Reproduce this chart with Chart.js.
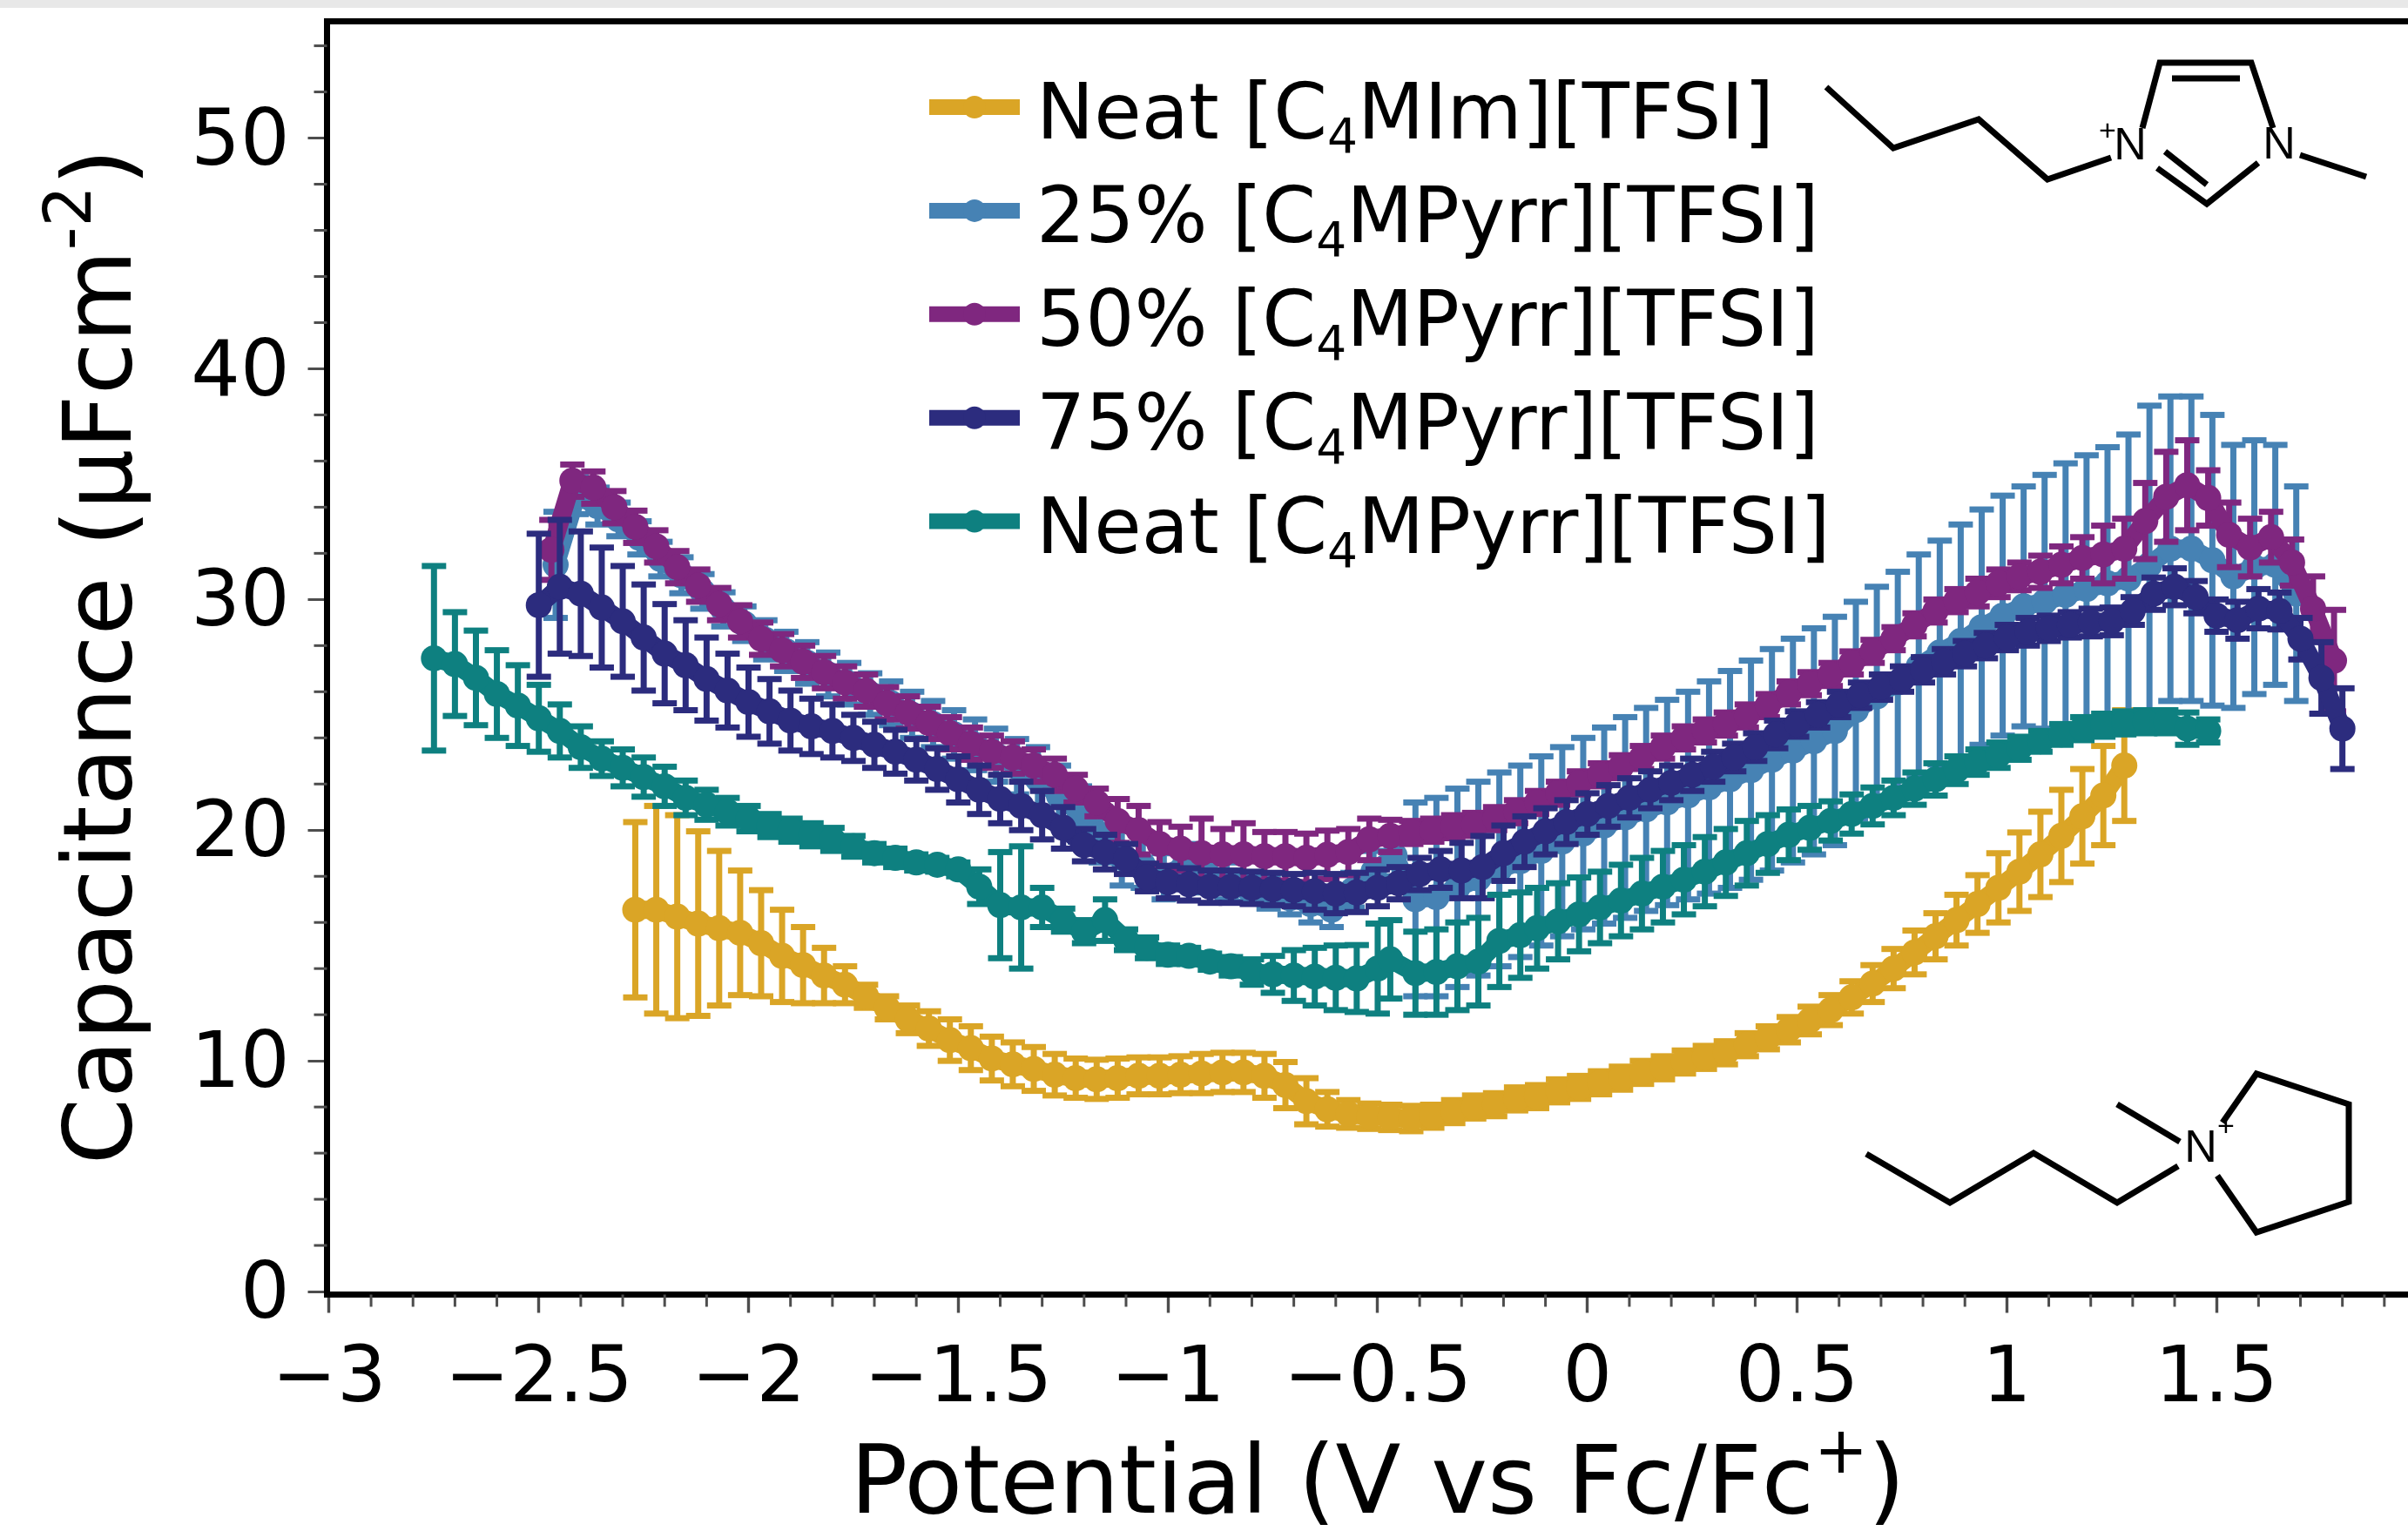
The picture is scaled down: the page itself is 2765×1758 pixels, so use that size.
<!DOCTYPE html>
<html>
<head>
<meta charset="utf-8">
<title>Capacitance vs potential</title>
<script src="https://cdn.jsdelivr.net/npm/chart.js@4/dist/chart.umd.min.js"></script>
<style>
  html, body { margin: 0; padding: 0; background: #fff; }
  canvas { display: block; }
</style>
</head>
<body>
<canvas id="capacitance-chart" width="2765" height="1758"></canvas>
<script>
// values
const seriesNames = ['Neat [C₄MIm][TFSI]', '25% [C₄MPyrr][TFSI]', '50% [C₄MPyrr][TFSI]', '75% [C₄MPyrr][TFSI]', 'Neat [C₄MPyrr][TFSI]'];
const xTickValues = [-3, -2.5, -2, -1.5, -1, -0.5, 0, 0.5, 1, 1.5];
const yTickValues = [0, 10, 20, 30, 40, 50];
const xMinorValues = [-2.9, -2.8, -2.7, -2.6, -2.4, -2.3, -2.2, -2.1, -1.9, -1.8, -1.7, -1.6, -1.4, -1.3, -1.2, -1.1, -0.9, -0.8, -0.7, -0.6, -0.4, -0.3, -0.2, -0.1, 0.1, 0.2, 0.3, 0.4, 0.6, 0.7, 0.8, 0.9, 1.1, 1.2, 1.3, 1.4, 1.6, 1.7, 1.8, 1.9];
const yMinorValues = [2, 4, 6, 8, 12, 14, 16, 18, 22, 24, 26, 28, 32, 34, 36, 38, 42, 44, 46, 48, 52, 54];

// Neat [C4MIm][TFSI]
const xGold = [-2.27, -2.22, -2.17, -2.12, -2.07, -2.02, -1.97, -1.92, -1.87, -1.82, -1.77, -1.72, -1.67, -1.62, -1.57, -1.52, -1.47, -1.42, -1.37, -1.32, -1.27, -1.22, -1.17, -1.12, -1.07, -1.02, -0.97, -0.92, -0.87, -0.82, -0.77, -0.72, -0.67, -0.62, -0.57, -0.52, -0.47, -0.42, -0.37, -0.32, -0.27, -0.22, -0.17, -0.12, -0.07, -0.02, 0.03, 0.08, 0.13, 0.18, 0.23, 0.28, 0.33, 0.38, 0.43, 0.48, 0.53, 0.58, 0.63, 0.68, 0.73, 0.78, 0.83, 0.88, 0.93, 0.98, 1.03, 1.08, 1.13, 1.18, 1.23, 1.28];
const yGold = [16.55, 16.55, 16.25, 15.95, 15.75, 15.55, 15.1, 14.55, 14.15, 13.7, 13.3, 12.8, 12.3, 11.8, 11.4, 10.9, 10.55, 10.1, 9.85, 9.65, 9.4, 9.25, 9.2, 9.25, 9.35, 9.35, 9.4, 9.45, 9.5, 9.5, 9.35, 8.95, 8.25, 7.9, 7.7, 7.6, 7.55, 7.5, 7.6, 7.8, 8.0, 8.1, 8.35, 8.45, 8.7, 8.85, 9.05, 9.25, 9.5, 9.7, 9.95, 10.15, 10.35, 10.7, 11.0, 11.35, 11.75, 12.2, 12.75, 13.35, 14.0, 14.7, 15.4, 16.1, 16.8, 17.5, 18.2, 18.95, 19.75, 20.6, 21.5, 22.8];
const errGold = [3.8, 4.5, 4.4, 4.0, 3.35, 2.7, 2.3, 2.0, 1.65, 1.2, 0.8, 0.5, 0.5, 0.6, 0.75, 0.9, 0.95, 0.95, 0.95, 0.95, 0.9, 0.85, 0.85, 0.85, 0.8, 0.8, 0.8, 0.85, 0.85, 0.85, 0.95, 1.0, 1.0, 0.75, 0.6, 0.55, 0.55, 0.55, 0.5, 0.5, 0.5, 0.5, 0.5, 0.5, 0.5, 0.5, 0.5, 0.5, 0.5, 0.5, 0.5, 0.5, 0.5, 0.5, 0.5, 0.55, 0.6, 0.65, 0.7, 0.8, 0.85, 0.95, 1.0, 1.1, 1.25, 1.5, 1.7, 1.85, 2.0, 2.05, 2.15, 2.4];

// 25% [C4MPyrr][TFSI]
const xBlue = [-2.46, -2.41, -2.36, -2.31, -2.26, -2.21, -2.16, -2.11, -2.06, -2.01, -1.96, -1.91, -1.86, -1.81, -1.76, -1.71, -1.66, -1.61, -1.56, -1.51, -1.46, -1.41, -1.36, -1.31, -1.26, -1.21, -1.16, -1.11, -1.06, -1.01, -0.96, -0.91, -0.86, -0.81, -0.76, -0.71, -0.66, -0.61, -0.56, -0.51, -0.46, -0.41, -0.36, -0.31, -0.26, -0.21, -0.16, -0.11, -0.06, -0.01, 0.04, 0.09, 0.14, 0.19, 0.24, 0.29, 0.34, 0.39, 0.44, 0.49, 0.54, 0.59, 0.64, 0.69, 0.74, 0.79, 0.84, 0.89, 0.94, 0.99, 1.04, 1.09, 1.14, 1.19, 1.24, 1.29, 1.34, 1.39, 1.44, 1.49, 1.54, 1.59, 1.64, 1.69];
const yBlue = [31.5, 34.5, 34.05, 33.47, 32.67, 31.75, 31.05, 30.35, 29.57, 28.95, 28.25, 27.75, 27.25, 26.75, 26.35, 25.9, 25.5, 25.0, 24.6, 24.15, 23.7, 23.25, 22.75, 22.2, 21.5, 20.7, 19.8, 18.8, 18.5, 18.0, 18.5, 18.2, 17.8, 17.5, 17.3, 17.05, 16.8, 16.55, 17.4, 18.2, 18.9, 17.0, 17.1, 17.5, 17.9, 18.3, 18.65, 19.1, 19.5, 19.85, 20.2, 20.55, 20.9, 21.2, 21.5, 21.85, 22.2, 22.6, 23.05, 23.45, 23.85, 24.3, 25.2, 25.8, 26.4, 27.1, 27.7, 28.2, 28.8, 29.3, 29.7, 29.9, 30.2, 30.45, 30.7, 30.9, 31.5, 32.2, 32.2, 31.7, 31.0, 31.4, 31.5, 30.25];
const errBlue = [2.3, 0.8, 0.8, 0.73, 0.72, 0.75, 0.78, 0.75, 0.74, 0.75, 0.85, 0.85, 0.9, 0.95, 0.9, 0.9, 0.95, 1.0, 1.0, 1.05, 1.1, 1.15, 1.2, 1.4, 1.3, 1.2, 1.2, 1.2, 1.0, 1.0, 0.9, 0.9, 0.8, 0.6, 0.7, 0.7, 0.8, 0.75, 0.75, 0.9, 0.9, 4.2, 4.3, 4.3, 4.2, 4.2, 4.15, 4.1, 4.1, 4.15, 4.25, 4.35, 4.4, 4.45, 4.5, 4.6, 4.7, 4.75, 4.8, 4.85, 4.9, 4.95, 4.7, 4.75, 4.8, 4.85, 4.85, 5.05, 5.1, 5.2, 5.2, 5.5, 5.7, 5.8, 5.9, 6.25, 6.9, 6.6, 6.6, 6.3, 5.7, 5.5, 5.2, 4.65];

// 50% [C4MPyrr][TFSI]
const xPurple = [-2.47, -2.42, -2.37, -2.32, -2.27, -2.22, -2.17, -2.12, -2.07, -2.02, -1.97, -1.92, -1.87, -1.82, -1.77, -1.72, -1.67, -1.62, -1.57, -1.52, -1.47, -1.42, -1.37, -1.32, -1.27, -1.22, -1.17, -1.12, -1.07, -1.02, -0.97, -0.92, -0.87, -0.82, -0.77, -0.72, -0.67, -0.62, -0.57, -0.52, -0.47, -0.42, -0.37, -0.32, -0.27, -0.22, -0.17, -0.12, -0.07, -0.02, 0.03, 0.08, 0.13, 0.18, 0.23, 0.28, 0.33, 0.38, 0.43, 0.48, 0.53, 0.58, 0.63, 0.68, 0.73, 0.78, 0.83, 0.88, 0.93, 0.98, 1.03, 1.08, 1.13, 1.18, 1.23, 1.28, 1.33, 1.38, 1.43, 1.48, 1.53, 1.58, 1.63, 1.68, 1.73, 1.78];
const yPurple = [32.15, 35.15, 34.85, 34.0, 33.15, 32.3, 31.4, 30.6, 29.8, 29.05, 28.3, 27.8, 27.3, 26.85, 26.4, 26.05, 25.5, 25.1, 24.65, 24.2, 23.75, 23.4, 23.15, 22.8, 22.4, 21.8, 21.2, 20.4, 20.0, 19.4, 19.2, 19.0, 18.95, 18.95, 18.87, 18.87, 18.8, 18.93, 19.05, 19.6, 19.75, 19.9, 20.0, 20.15, 20.25, 20.5, 20.8, 21.2, 21.6, 22.05, 22.4, 22.75, 23.15, 23.6, 24.0, 24.3, 24.6, 24.95, 25.4, 25.95, 26.35, 26.75, 27.25, 27.75, 28.3, 28.9, 29.5, 29.95, 30.3, 30.7, 31.0, 31.2, 31.5, 31.8, 31.95, 32.2, 33.4, 34.45, 34.95, 34.4, 32.8, 32.25, 32.7, 31.6, 29.6, 27.35];
const errPurple = [1.3, 0.7, 0.7, 0.7, 0.7, 0.7, 0.7, 0.7, 0.7, 0.7, 0.7, 0.7, 0.7, 0.7, 0.7, 0.7, 0.7, 0.7, 0.7, 0.7, 0.7, 0.7, 0.7, 0.7, 0.7, 0.6, 0.6, 0.95, 1.05, 0.95, 0.95, 1.5, 1.1, 1.35, 1.05, 1.05, 1.05, 1.05, 1.0, 0.9, 0.7, 0.5, 0.5, 0.5, 0.5, 0.5, 0.5, 0.5, 0.5, 0.5, 0.5, 0.5, 0.5, 0.5, 0.5, 0.5, 0.5, 0.5, 0.5, 0.5, 0.5, 0.5, 0.5, 0.5, 0.5, 0.5, 0.5, 0.5, 0.6, 0.6, 0.6, 0.7, 0.8, 0.9, 1.25, 1.3, 1.65, 1.95, 1.95, 1.2, 1.4, 1.25, 1.1, 1.0, 1.4, 2.2];

// 75% [C4MPyrr][TFSI]
const xNavy = [-2.5, -2.45, -2.4, -2.35, -2.3, -2.25, -2.2, -2.15, -2.1, -2.05, -2, -1.95, -1.9, -1.85, -1.8, -1.75, -1.7, -1.65, -1.6, -1.55, -1.5, -1.45, -1.4, -1.35, -1.3, -1.25, -1.2, -1.15, -1.1, -1.05, -1, -0.95, -0.9, -0.85, -0.8, -0.75, -0.7, -0.65, -0.6, -0.55, -0.5, -0.45, -0.4, -0.35, -0.3, -0.25, -0.2, -0.15, -0.1, -0.05, 0, 0.05, 0.1, 0.15, 0.2, 0.25, 0.3, 0.35, 0.4, 0.45, 0.5, 0.55, 0.6, 0.65, 0.7, 0.75, 0.8, 0.85, 0.9, 0.95, 1, 1.05, 1.1, 1.15, 1.2, 1.25, 1.3, 1.35, 1.4, 1.45, 1.5, 1.55, 1.6, 1.65, 1.7, 1.75, 1.8];
const yNavy = [29.75, 30.55, 30.25, 29.65, 29.05, 28.35, 27.65, 27.15, 26.55, 26.05, 25.55, 25.15, 24.75, 24.5, 24.3, 24.0, 23.7, 23.4, 23.05, 22.65, 22.2, 21.75, 21.35, 21.05, 20.65, 20.1, 19.35, 19.05, 18.75, 17.95, 17.75, 17.65, 17.55, 17.55, 17.5, 17.45, 17.4, 17.35, 17.25, 17.3, 17.5, 17.7, 18.1, 18.3, 18.25, 18.4, 19.0, 19.5, 19.95, 20.35, 20.7, 21.05, 21.4, 21.75, 22.05, 22.4, 22.75, 23.15, 23.6, 24.15, 24.6, 25.0, 25.45, 25.85, 26.2, 26.55, 26.95, 27.3, 27.65, 28.0, 28.35, 28.6, 28.75, 28.9, 29.0, 29.05, 29.5, 30.25, 30.55, 30.1, 29.3, 29.1, 29.6, 29.5, 28.3, 26.6, 24.4];
const errNavy = [3.1, 2.9, 2.7, 2.6, 2.4, 2.3, 2.15, 1.95, 1.8, 1.6, 1.5, 1.4, 1.3, 1.2, 1.15, 1.0, 1.0, 0.95, 0.9, 0.9, 1.0, 1.05, 1.05, 1.05, 1.05, 0.9, 0.7, 0.75, 0.65, 0.6, 0.7, 0.7, 0.7, 0.7, 0.7, 0.7, 0.7, 0.8, 0.85, 0.85, 0.8, 0.7, 0.7, 0.8, 1.2, 1.35, 1.2, 1.1, 1.0, 0.95, 0.9, 0.9, 0.85, 0.8, 0.75, 0.7, 0.65, 0.6, 0.6, 0.6, 0.55, 0.55, 0.55, 0.55, 0.55, 0.55, 0.55, 0.55, 0.55, 0.55, 0.55, 0.6, 0.55, 0.55, 0.6, 0.6, 0.6, 0.7, 0.8, 0.7, 0.7, 0.8, 0.85, 0.8, 0.9, 1.55, 1.75];

// Neat [C4MPyrr][TFSI]
const xTeal = [-2.75, -2.7, -2.65, -2.6, -2.55, -2.5, -2.45, -2.4, -2.35, -2.3, -2.25, -2.2, -2.15, -2.1, -2.05, -2, -1.95, -1.9, -1.85, -1.8, -1.75, -1.7, -1.65, -1.6, -1.55, -1.5, -1.45, -1.4, -1.35, -1.3, -1.25, -1.2, -1.15, -1.1, -1.05, -1, -0.95, -0.9, -0.85, -0.8, -0.75, -0.7, -0.65, -0.6, -0.55, -0.5, -0.47, -0.41, -0.36, -0.31, -0.26, -0.21, -0.16, -0.12, -0.07, -0.02, 0.03, 0.08, 0.13, 0.18, 0.23, 0.28, 0.33, 0.38, 0.43, 0.48, 0.53, 0.58, 0.63, 0.68, 0.73, 0.78, 0.83, 0.88, 0.93, 0.98, 1.03, 1.08, 1.13, 1.18, 1.23, 1.28, 1.33, 1.38, 1.43, 1.48];
const yTeal = [27.45, 27.2, 26.6, 25.9, 25.4, 24.85, 24.3, 23.6, 23.1, 22.7, 22.3, 21.9, 21.4, 21.1, 20.8, 20.5, 20.2, 20.0, 19.8, 19.6, 19.3, 19.0, 18.8, 18.6, 18.5, 18.3, 17.55, 16.75, 16.65, 16.65, 16.1, 15.6, 16.1, 15.25, 14.9, 14.6, 14.55, 14.3, 14.1, 13.85, 13.75, 13.7, 13.65, 13.6, 13.57, 14.0, 14.4, 13.8, 13.85, 14.1, 14.3, 15.2, 15.45, 15.75, 16.05, 16.35, 16.65, 16.95, 17.25, 17.55, 17.85, 18.2, 18.6, 19.0, 19.4, 19.8, 20.1, 20.4, 20.7, 21.05, 21.4, 21.8, 22.2, 22.6, 22.95, 23.25, 23.55, 23.85, 24.15, 24.4, 24.55, 24.65, 24.7, 24.7, 24.4, 24.3];
const errTeal = [4.0, 2.25, 2.05, 1.9, 1.75, 1.45, 1.15, 0.9, 0.75, 0.8, 0.85, 0.85, 0.75, 0.65, 0.6, 0.55, 0.5, 0.5, 0.5, 0.5, 0.45, 0.4, 0.4, 0.35, 0.3, 0.3, 0.75, 2.3, 2.65, 0.85, 0.5, 0.5, 0.9, 0.45, 0.45, 0.4, 0.35, 0.35, 0.4, 0.55, 0.8, 1.1, 1.25, 1.4, 1.45, 1.95, 1.7, 1.8, 1.85, 1.9, 1.9, 2.0, 1.85, 1.75, 1.65, 1.6, 1.55, 1.55, 1.55, 1.55, 1.5, 1.5, 1.45, 1.4, 1.25, 1.1, 0.95, 0.85, 0.85, 0.8, 0.75, 0.7, 0.7, 0.6, 0.55, 0.55, 0.5, 0.45, 0.45, 0.5, 0.5, 0.5, 0.5, 0.5, 0.7, 0.5];

const FONT = '"DejaVu Sans"';
const toPoints = (xs, ys) => xs.map((x, i) => ({ x: x, y: ys[i] }));

function makeDataset(label, xs, ys, errs, color, order) {
    return {
        label: label,
        data: toPoints(xs, ys),
        errorBars: errs,
        borderColor: color,
        backgroundColor: color,
        borderWidth: 21,
        pointRadius: 15,
        pointBorderWidth: 0,
        tension: 0,
        showLine: true,
        clip: false,
        order: order // teal ends up on top, gold at the bottom
    };
}

// writes text where ₄ turns into a lowered small 4
function drawLegendText(ctx, text, x, y, size) {
    const parts = text.split('₄');
    ctx.font = size + 'px ' + FONT;
    ctx.fillText(parts[0], x, y);
    x += ctx.measureText(parts[0]).width;
    ctx.font = Math.round(size * 0.62) + 'px ' + FONT;
    ctx.fillText('4', x, y + size * 0.18);
    x += ctx.measureText('4').width;
    ctx.font = size + 'px ' + FONT;
    ctx.fillText(parts[1], x, y);
}

// base text followed by a raised smaller part and a closing bracket
function drawSuperText(ctx, before, sup, after, x, y, size, anchorMiddle) {
    ctx.font = size + 'px ' + FONT;
    const w1 = ctx.measureText(before).width;
    const w3 = ctx.measureText(after).width;
    ctx.font = Math.round(size * 0.68) + 'px ' + FONT;
    const w2 = ctx.measureText(sup).width;
    let cx = anchorMiddle ? x - (w1 + w2 + w3) / 2 : x;
    ctx.font = size + 'px ' + FONT;
    ctx.fillText(before, cx, y);
    cx += w1;
    ctx.font = Math.round(size * 0.68) + 'px ' + FONT;
    ctx.fillText(sup, cx, y - size * 0.42);
    cx += w2;
    ctx.font = size + 'px ' + FONT;
    ctx.fillText(after, cx, y);
}

function strokePath(ctx, pts) {
    ctx.beginPath();
    pts.forEach((p, i) => i === 0 ? ctx.moveTo(p[0], p[1]) : ctx.lineTo(p[0], p[1]));
    ctx.stroke();
}

// the scales must not push the plot area in for their half labels
function pinScale(scale, width, height) {
    if (width) scale.width = width;
    if (height) scale.height = height;
    scale.paddingTop = 0;
    scale.paddingBottom = 0;
    scale.paddingLeft = 0;
    scale.paddingRight = 0;
}

// error bars go under each series line
const errorBarPlugin = {
    id: 'errorBars',
    beforeDatasetDraw(chart, args) {
        const ds = chart.data.datasets[args.index];
        const ctx = chart.ctx;
        const xs = chart.scales.x, ys = chart.scales.y;
        ctx.save();
        ctx.strokeStyle = ds.borderColor;
        ctx.lineWidth = 7;
        ds.data.forEach((p, i) => {
            const px = xs.getPixelForValue(p.x);
            const top = ys.getPixelForValue(p.y + ds.errorBars[i]);
            const bot = ys.getPixelForValue(p.y - ds.errorBars[i]);
            strokePath(ctx, [[px, top], [px, bot]]);
            strokePath(ctx, [[px - 14, top], [px + 14, top]]);
            strokePath(ctx, [[px - 14, bot], [px + 14, bot]]);
        });
        ctx.restore();
    }
};

// page band, top frame line, minor ticks, legend, axis titles, cation sketches
const decorPlugin = {
    id: 'decor',
    beforeDraw(chart) {
        const ctx = chart.ctx;
        ctx.save();
        ctx.fillStyle = '#fff';
        ctx.fillRect(0, 0, chart.width, chart.height);
        ctx.fillStyle = '#e8e8e8';
        ctx.fillRect(0, 0, chart.width, 9);
        ctx.restore();
    },
    afterDraw(chart) {
        const ctx = chart.ctx;
        const area = chart.chartArea;
        ctx.save();

        ctx.strokeStyle = '#000';
        ctx.lineWidth = 7;
        strokePath(ctx, [[area.left - 3.5, area.top], [area.right, area.top]]);

        ctx.strokeStyle = '#4d4d4d';
        ctx.lineWidth = 3;
        xMinorValues.forEach(v => {
            const px = chart.scales.x.getPixelForValue(v);
            strokePath(ctx, [[px, area.bottom], [px, area.bottom + 14]]);
        });
        yMinorValues.forEach(v => {
            const py = chart.scales.y.getPixelForValue(v);
            strokePath(ctx, [[area.left - 15, py], [area.left, py]]);
        });

        // legend
        ctx.textAlign = 'left';
        ctx.textBaseline = 'alphabetic';
        chart.data.datasets.forEach((ds, i) => {
            const rowY = 123 + i * 118.9;
            ctx.strokeStyle = ds.borderColor;
            ctx.fillStyle = ds.borderColor;
            ctx.lineWidth = 18;
            strokePath(ctx, [[1067, rowY], [1171, rowY]]);
            ctx.beginPath();
            ctx.arc(1119, rowY, 13, 0, Math.PI * 2);
            ctx.fill();
            ctx.fillStyle = '#000';
            drawLegendText(ctx, ds.label, 1190, rowY + 36, 88.5);
        });

        // axis titles
        ctx.fillStyle = '#000';
        drawSuperText(ctx, 'Potential (V vs Fc/Fc', '+', ')', 1582, 1737, 109.5, true);
        ctx.save();
        ctx.translate(150, 754);
        ctx.rotate(-Math.PI / 2);
        drawSuperText(ctx, 'Capacitance (µFcm', '-2', ')', 0, 0, 109, true);
        ctx.restore();

        // imidazolium cation
        ctx.strokeStyle = '#000';
        ctx.lineWidth = 7;
        strokePath(ctx, [[2097, 100], [2174, 170], [2272, 137], [2351, 206], [2424, 181]]);
        strokePath(ctx, [[2460, 147], [2480, 72], [2585, 72], [2610, 147]]);
        strokePath(ctx, [[2494, 90], [2572, 90]]);
        strokePath(ctx, [[2593, 187], [2534, 234], [2477, 193]]);
        strokePath(ctx, [[2486, 174], [2534, 212]]);
        strokePath(ctx, [[2641, 178], [2717, 203]]);
        // pyrrolidinium cation
        strokePath(ctx, [[2143, 1325], [2239, 1381], [2335, 1324], [2431, 1381], [2501, 1339]]);
        strokePath(ctx, [[2431, 1268], [2503, 1311]]);
        strokePath(ctx, [[2552, 1289], [2591, 1233], [2697, 1268], [2697, 1380], [2591, 1415], [2546, 1350]]);

        ctx.fillStyle = '#000';
        ctx.textAlign = 'center';
        ctx.textBaseline = 'middle';
        ctx.font = '52px "Liberation Sans"';
        ctx.fillText('N', 2446, 169);
        ctx.fillText('N', 2617, 168);
        ctx.fillText('N', 2527, 1320);
        ctx.font = '34px "Liberation Sans"';
        ctx.fillText('+', 2420, 152);
        ctx.fillText('+', 2556, 1295);
        ctx.restore();
    }
};

function createCapacitanceChart() {
    const ctx = document.getElementById('capacitance-chart').getContext('2d');
    new Chart(ctx, {
        type: 'scatter',
        data: {
            datasets: [
                makeDataset(seriesNames[0], xGold, yGold, errGold, '#DAA526', 5),
                makeDataset(seriesNames[1], xBlue, yBlue, errBlue, '#4682B4', 4),
                makeDataset(seriesNames[2], xPurple, yPurple, errPurple, '#7F277F', 3),
                makeDataset(seriesNames[3], xNavy, yNavy, errNavy, '#2C2C7E', 2),
                makeDataset(seriesNames[4], xTeal, yTeal, errTeal, '#0E8080', 1)
            ]
        },
        plugins: [errorBarPlugin, decorPlugin],
        options: {
            responsive: false,
            animation: false,
            events: [],
            layout: { autoPadding: false, padding: { top: 24.5, right: 0, left: 0, bottom: 0 } },
            plugins: {
                legend: { display: false },
                tooltip: { enabled: false }
            },
            scales: {
                x: {
                    type: 'linear',
                    min: -3.005,
                    max: 1.9564,
                    afterFit(scale) { pinScale(scale, 0, 271.5); },
                    afterBuildTicks(scale) { scale.ticks = xTickValues.map(v => ({ value: v })); },
                    border: { color: '#000', width: 7 },
                    grid: { drawOnChartArea: false, tickLength: 21, tickColor: '#4d4d4d', tickWidth: 3.4 },
                    ticks: {
                        autoSkip: false,
                        maxRotation: 0,
                        padding: 25,
                        color: '#000',
                        font: { family: FONT, size: 89 },
                        callback: v => String(v).replace('-', '−')
                    }
                },
                y: {
                    type: 'linear',
                    min: -0.13,
                    max: 55.06,
                    afterFit(scale) { pinScale(scale, 375.5, 0); },
                    afterBuildTicks(scale) { scale.ticks = yTickValues.map(v => ({ value: v })); },
                    border: { color: '#000', width: 7 },
                    grid: { drawOnChartArea: false, tickLength: 22, tickColor: '#4d4d4d', tickWidth: 3 },
                    ticks: {
                        autoSkip: false,
                        padding: 21,
                        labelOffset: 7,
                        color: '#000',
                        font: { family: FONT, size: 89 },
                        callback: v => String(v)
                    }
                }
            }
        }
    });
}

createCapacitanceChart();
</script>
</body>
</html>
